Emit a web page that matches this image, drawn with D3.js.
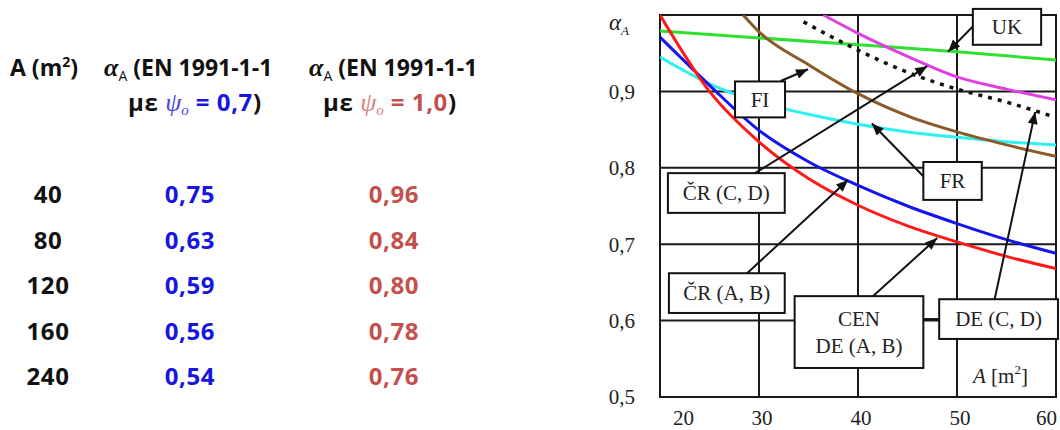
<!DOCTYPE html>
<html lang="el">
<head>
<meta charset="UTF-8">
<title>αA - EN 1991-1-1</title>
<script src="https://d3js.org/d3.v7.min.js"></script>
<style>
  body { margin: 0; background: #fff; }
  svg { display: block; }
  .tbl { font-family: "Open Sans", sans-serif; font-weight: 700; font-size: 24px; letter-spacing: 0.6px; }
  .tbl .head { font-size: 23px; letter-spacing: 0; }
  .serif { font-family: "Liberation Serif", "DejaVu Serif", serif; letter-spacing: 0; }
</style>
</head>
<body>
<svg width="1060" height="430"></svg>
<script>
// table values
const tableArea = [40, 80, 120, 160, 240];
const tablePsi07 = ["0,75", "0,63", "0,59", "0,56", "0,54"];
const tablePsi10 = ["0,96", "0,84", "0,80", "0,78", "0,76"];

// chart axes
const areaTicks = [20, 30, 40, 50, 60];
const alphaTicks = [0.5, 0.6, 0.7, 0.8, 0.9];

// curves [A, alpha_A]
const curveCEN = [[20, 1.0], [25, 0.90], [30, 0.834], [35, 0.786], [40, 0.751], [45, 0.724], [50, 0.703], [55, 0.684], [60, 0.668]];
const curveCRAB = [[20, 0.971], [25, 0.908], [30, 0.849], [35, 0.808], [40, 0.777], [45, 0.750], [50, 0.727], [55, 0.706], [60, 0.688]];
const curveFR = [[20, 0.945], [25, 0.910], [30, 0.886], [35, 0.870], [40, 0.857], [45, 0.847], [50, 0.840], [55, 0.834], [60, 0.830]];
const curveUK = [[20, 0.979], [30, 0.970], [40, 0.961], [50, 0.952], [60, 0.941]];
const curveFI = [[28.4, 1.0], [30, 0.978], [35, 0.935], [40, 0.897], [45, 0.868], [50, 0.847], [55, 0.830], [60, 0.815]];
const curveCRCD = [[36.5, 1.0], [40, 0.976], [45, 0.946], [50, 0.919], [55, 0.903], [60, 0.889]];
const curveDECD = [[34.5, 0.991], [40, 0.954], [45, 0.925], [50, 0.903], [55, 0.886], [59.5, 0.868]];

const svg = d3.select("svg");

// ---------- left table ----------
const blue = "#1616e0", red = "#c4504e";
const tbl = svg.append("g").attr("class", "tbl").attr("fill", "#111");

let t = tbl.append("text").attr("class", "head").attr("x", 10).attr("y", 76);
t.append("tspan").text("A (m");
t.append("tspan").attr("dy", -9).attr("font-size", 14).text("2");
t.append("tspan").attr("dy", 9).text(")");

function header(x1, x2, psiText, col, psiCol) {
    let h = tbl.append("text").attr("class", "head").attr("x", x1).attr("y", 76);
    h.append("tspan").attr("class", "serif").attr("font-style", "italic").attr("font-size", 26).text("α");
    h.append("tspan").attr("dy", 5).attr("font-size", 14).attr("font-weight", 400).text("A");
    h.append("tspan").attr("dy", -5).text(" (EN 1991-1-1");
    let l = tbl.append("text").attr("x", x2).attr("y", 111);
    l.append("tspan").text("με ");
    l.append("tspan").attr("class", "serif").attr("font-style", "italic").attr("font-weight", 400)
        .attr("font-size", 26).attr("fill", psiCol).text("ψ");
    l.append("tspan").attr("class", "serif").attr("font-style", "italic").attr("font-weight", 400)
        .attr("font-size", 15).attr("dy", 4).attr("fill", psiCol).text("o");
    l.append("tspan").attr("dy", -4).attr("fill", col).text(" = " + psiText);
    l.append("tspan").text(")");
}
header(104, 128, "0,7", blue, "#4545e2");
header(309, 323, "1,0", red, "#d88080");

const rowY = i => 203 + i * 45.5;
tableArea.forEach((a, i) => {
    tbl.append("text").attr("x", 48).attr("y", rowY(i)).attr("text-anchor", "middle").text(a);
    tbl.append("text").attr("x", 190).attr("y", rowY(i)).attr("text-anchor", "middle")
        .attr("fill", blue).text(tablePsi07[i]);
    tbl.append("text").attr("x", 394).attr("y", rowY(i)).attr("text-anchor", "middle")
        .attr("fill", red).text(tablePsi10[i]);
});

// ---------- right chart ----------
const x = d3.scaleLinear().domain([20, 60]).range([660, 1056]);
const y = d3.scaleLinear().domain([0.5, 1.0]).range([397, 15]);

const chart = svg.append("g").attr("class", "serif").attr("font-size", 21).attr("fill", "#222");

svg.append("defs").append("clipPath").attr("id", "plot")
    .append("rect").attr("x", x(20)).attr("y", y(1)).attr("width", x(60) - x(20)).attr("height", y(0.5) - y(1));

svg.select("defs").append("marker")
    .attr("id", "arr").attr("markerUnits", "userSpaceOnUse")
    .attr("viewBox", "0 0 12 10").attr("refX", 12).attr("refY", 5)
    .attr("markerWidth", 13).attr("markerHeight", 10).attr("orient", "auto")
    .append("path").attr("d", "M0,0 L12,5 L0,10 Z").attr("fill", "#111");

// grid
const grid = chart.append("g").attr("stroke", "#1a1a1a").attr("stroke-width", 2);
areaTicks.slice(1, -1).forEach(v => grid.append("line")
    .attr("x1", x(v)).attr("x2", x(v)).attr("y1", y(1)).attr("y2", y(0.5)));
alphaTicks.slice(1).forEach(v => grid.append("line")
    .attr("x1", x(20)).attr("x2", x(60)).attr("y1", y(v)).attr("y2", y(v)));
grid.append("rect").attr("x", x(20)).attr("y", y(1)).attr("width", x(60) - x(20))
    .attr("height", y(0.5) - y(1)).attr("fill", "none");

// curves
const line = d3.line().x(d => x(d[0])).y(d => y(d[1])).curve(d3.curveMonotoneX);
const curves = chart.append("g").attr("clip-path", "url(#plot)").attr("fill", "none").attr("stroke-width", 3);
[[curveUK, "#2fe02f"], [curveFR, "#2ff0f0"], [curveFI, "#8a5a28"], [curveCRCD, "#e040e0"],
 [curveCRAB, "#1414ee"], [curveCEN, "#ff1a1a"]].forEach(([c, col]) => {
    curves.append("path").attr("d", line(c)).attr("stroke", col);
});
curves.append("path").attr("d", line(curveDECD)).attr("stroke", "#111")
    .attr("stroke-width", 3.5).attr("stroke-dasharray", "4,6");

// axis labels
alphaTicks.forEach(v => chart.append("text").attr("x", 635).attr("y", y(v)).attr("dy", "0.35em")
    .attr("text-anchor", "end").text(d3.format(".1f")(v).replace(".", ",")));
areaTicks.forEach((v, i) => chart.append("text")
    .attr("x", i === 0 ? x(v) + 13 : x(v) + (i === areaTicks.length - 1 ? 1 : 3)).attr("y", 425)
    .attr("text-anchor", i === 0 ? "start" : (i === areaTicks.length - 1 ? "end" : "middle")).text(v));

let al = chart.append("text").attr("x", 609).attr("y", 30).attr("font-style", "italic");
al.append("tspan").attr("font-size", 23).text("α");
al.append("tspan").attr("font-size", 13).attr("dy", 5).text("A");

let am = chart.append("text").attr("x", 973).attr("y", 383);
am.append("tspan").attr("font-style", "italic").text("A");
am.append("tspan").text(" [m");
am.append("tspan").attr("font-size", 13).attr("dy", -9).text("2");
am.append("tspan").attr("dy", 9).text("]");

// annotation boxes: [A0, a0, A1, a1], label lines, arrow from -> to
const notes = [
    { box: [27.58, 0.913, 32.63, 0.866], lines: ["FI"], from: [32.2, 0.9136], to: [34.95, 0.929] },
    { box: [51.6, 1.008, 58.5, 0.961], lines: ["UK"], from: [51.6, 0.985], to: [49.1, 0.952] },
    { box: [46.6, 0.8076, 52.5, 0.758], lines: ["FR"], from: [46.6, 0.789], to: [41.4, 0.858] },
    { box: [20.8, 0.793, 32.6, 0.741], lines: ["ČR (C, D)"], from: [29.6, 0.793], to: [47.0, 0.933] },
    { box: [20.9, 0.662, 32.6, 0.610], lines: ["ČR (A, B)"], from: [28.8, 0.662], to: [39.0, 0.784] },
    { box: [33.6, 0.632, 46.6, 0.538], lines: ["CEN", "DE (A, B)"], from: [41.5, 0.632], to: [48.0, 0.708] },
    { box: [48.2, 0.628, 60.2, 0.576], lines: ["DE (C, D)"], from: [53.8, 0.628], to: [57.9, 0.873] }
];

const ann = chart.append("g");
// connector between the two DE boxes
ann.append("line").attr("x1", x(46.6)).attr("x2", x(48.2)).attr("y1", y(0.602)).attr("y2", y(0.602))
    .attr("stroke", "#111").attr("stroke-width", 2);
notes.forEach(n => {
    ann.append("line").attr("x1", x(n.from[0])).attr("y1", y(n.from[1]))
        .attr("x2", x(n.to[0])).attr("y2", y(n.to[1]))
        .attr("stroke", "#111").attr("stroke-width", 2).attr("marker-end", "url(#arr)");
});
notes.forEach(n => {
    const [a0, b0, a1, b1] = n.box;
    ann.append("rect").attr("x", x(a0)).attr("y", y(b0)).attr("width", x(a1) - x(a0))
        .attr("height", y(b1) - y(b0)).attr("fill", "#fff").attr("stroke", "#111").attr("stroke-width", 2);
    const cx = (x(a0) + x(a1)) / 2, cy = (y(b0) + y(b1)) / 2;
    n.lines.forEach((s, k) => ann.append("text").attr("x", cx)
        .attr("y", cy + (k - (n.lines.length - 1) / 2) * 27).attr("dy", "0.35em")
        .attr("text-anchor", "middle").text(s));
});
</script>
</body>
</html>
